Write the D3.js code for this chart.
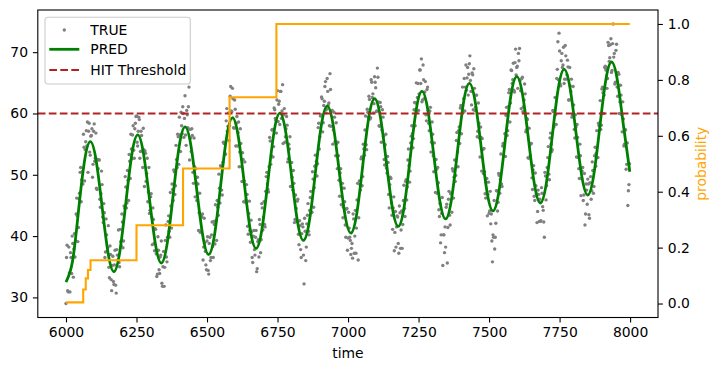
<!DOCTYPE html>
<html lang="en">
<head>
<meta charset="utf-8">
<title>TRUE vs PRED with hit probability</title>
<script src="https://cdn.jsdelivr.net/npm/d3@7"></script>
<style>
  body { margin: 0; background: #fff; }
  svg { display: block; font-family: "DejaVu Sans", sans-serif; }
</style>
</head>
<body>
<div id="chart"></div>
<script>
// ---- data ----
// TRUE is sampled on two interleaved grids: 6000,6004,... and 6002,6006,...
const trueStep = 4;
const trueStartA = 6000;
const trueValuesA = [
  29.0,38.5,30.9,34.0,37.3,33.9,38.8,37.9,36.6,43.6,43.3,41.4,47.0,51.2,49.2,48.5,54.5,54.1,57.2,58.6,57.1,53.7,56.3,57.5,51.7,58.3,52.7,47.8,52.5,52.4,46.0,46.9,48.4,42.2,43.8,37.4,40.2,38.1,34.9,38.4,32.9,35.2,
  32.6,35.3,32.0,37.8,36.1,35.7,41.1,38.4,42.3,39.2,44.6,48.0,45.4,49.1,53.3,49.4,54.2,56.5,54.0,57.5,59.5,55.3,57.1,59.0,53.8,56.4,51.2,54.1,53.9,48.9,52.7,47.2,43.7,46.4,43.1,44.6,38.8,41.2,37.1,33.8,37.7,33.9,
  36.9,32.3,35.0,31.8,39.3,36.6,39.8,43.3,39.8,44.9,48.5,45.8,50.5,48.2,52.5,56.6,51.7,56.5,60.2,56.7,60.0,59.2,56.5,60.5,57.7,64.3,57.4,53.8,56.4,48.6,51.3,51.0,45.8,48.5,43.8,40.6,43.3,43.6,38.2,38.9,35.3,39.2,
  34.4,38.8,36.0,40.2,38.3,42.4,38.7,42.6,45.8,43.4,47.8,51.5,47.5,52.0,55.1,53.3,58.8,57.1,60.1,58.0,64.4,60.3,62.4,57.6,60.7,58.4,54.7,58.6,53.7,55.1,48.9,52.5,49.0,45.5,48.4,41.6,43.7,40.9,42.6,36.5,40.0,37.8,
  39.8,34.2,39.1,36.6,41.9,39.4,44.6,43.1,41.9,47.3,50.4,47.6,51.3,55.5,53.1,57.4,54.6,60.6,58.9,62.2,58.7,62.0,63.6,59.2,64.7,59.8,55.3,57.5,58.1,52.6,54.2,48.1,52.0,47.5,48.6,42.7,44.5,45.7,40.3,42.5,37.8,40.4,
  41.5,32.2,40.8,38.2,43.4,40.8,44.2,47.3,43.9,49.3,47.9,53.2,52.2,51.8,58.4,56.2,59.8,62.4,58.5,62.0,65.2,60.7,63.6,61.7,66.5,57.9,60.5,57.3,59.4,53.1,55.1,55.3,49.1,50.3,45.1,48.6,44.7,45.6,39.8,44.5,39.7,41.3,
  39.3,38.0,36.4,42.8,40.0,37.2,45.9,36.1,49.0,47.5,52.9,49.7,54.2,57.3,54.9,60.7,59.4,62.3,59.3,65.1,63.2,61.6,65.1,60.3,67.4,61.9,57.9,61.1,57.3,59.4,52.5,54.9,51.1,53.0,46.8,48.4,49.4,43.4,44.6,37.6,44.0,41.5,
  43.1,37.2,43.8,41.0,38.0,45.8,44.5,48.9,45.9,52.4,51.5,50.6,56.3,56.7,55.9,61.8,61.7,60.3,64.9,63.2,67.1,68.9,62.2,65.5,63.5,59.8,63.9,60.5,57.2,61.0,55.3,56.6,50.5,52.5,52.5,47.0,48.7,43.2,38.9,43.7,35.2,40.2,
  41.5,44.7,35.6,46.0,43.4,46.9,43.9,50.6,49.6,48.9,55.6,53.7,57.2,55.1,61.3,61.1,60.1,65.7,64.3,63.8,67.5,66.4,69.4,63.6,66.6,60.6,64.1,61.0,63.0,57.1,58.4,52.9,56.1,55.9,50.2,50.5,46.2,49.4,46.8,43.7,47.3,43.6,
  35.8,39.8,37.9,42.1,47.4,45.5,49.9,49.3,48.5,54.7,53.0,56.7,59.7,56.4,61.1,63.9,61.7,67.0,65.5,63.8,68.3,66.3,67.7,69.8,70.6,63.7,65.7,60.3,62.2,63.2,57.3,59.0,52.7,54.8,55.1,49.5,50.8,46.5,50.3,46.9,44.0,46.8,
  46.0,42.5,47.0,44.2,39.8,49.8,48.2,52.8,50.1,56.0,55.0,54.1,60.3,60.5,59.8,65.7,71.7,73.1,64.8,68.6,67.5,70.8,65.6,69.4,66.3,67.6,62.2,64.5,65.6,59.7,61.4,56.0,57.8,58.2,52.8,49.4,53.1,49.4,51.2,46.7,41.8,48.5,
  45.2,48.5,42.9,49.7,47.4,50.7,48.1,54.5,53.5,52.8,58.4,57.9,57.4,64.0,63.4,63.0,67.7,67.5,65.7,71.1,69.1,72.2,67.0,74.6,69.8,65.1,71.3,62.8,66.4,61.9,63.0,57.0,59.1,55.0,57.3,51.7,45.0,48.4
];
const trueStartB = 6002;
const trueValuesB = [
  36.5,31.1,38.2,30.9,36.5,40.0,33.3,40.4,39.2,46.2,39.1,46.1,50.4,45.6,50.5,56.6,49.0,55.4,54.7,50.4,58.4,53.2,56.4,49.6,57.1,52.2,56.8,47.6,51.0,52.4,44.7,50.6,43.1,45.3,36.5,42.8,37.5,41.7,33.2,37.0,31.1,36.7,
  32.1,37.7,30.7,36.9,41.0,35.0,39.1,43.6,38.1,44.9,49.7,44.6,50.7,45.8,52.2,56.6,52.6,58.0,52.7,58.4,59.6,54.7,59.4,52.7,57.1,53.9,57.6,48.1,53.5,50.2,45.6,51.2,44.2,46.9,38.6,42.7,37.6,41.1,33.4,39.9,34.5,36.6,
  39.2,31.8,37.5,34.9,41.8,35.8,42.4,40.8,47.1,41.3,47.6,50.8,46.8,54.8,51.2,56.2,59.4,53.8,58.0,61.1,56.1,62.9,54.8,59.8,61.1,52.4,56.0,57.5,50.4,56.0,46.4,48.7,49.6,40.9,47.0,40.8,43.1,36.1,42.9,37.5,34.5,39.9,
  33.8,39.8,36.5,42.3,36.5,41.9,45.1,39.3,44.7,50.1,45.4,51.3,46.7,55.3,55.2,53.4,60.8,57.9,55.6,62.8,60.4,64.1,57.7,62.2,54.7,59.5,56.9,51.3,57.5,51.3,53.6,45.6,52.1,45.9,46.8,40.3,45.7,39.0,40.7,35.7,40.9,36.9,
  40.9,34.7,39.4,42.7,37.3,45.3,41.0,45.6,41.5,49.7,48.5,47.2,56.1,51.7,57.3,52.9,60.9,59.2,56.8,63.7,61.5,58.2,63.6,60.4,55.1,60.8,56.2,59.5,52.1,55.0,56.2,48.1,49.6,50.7,42.2,46.7,42.4,46.0,38.6,41.7,36.5,42.0,
  36.9,42.9,36.0,42.0,45.3,40.2,46.3,43.8,50.5,44.7,51.4,51.5,49.8,57.7,54.2,59.6,62.7,57.0,61.3,64.4,60.1,65.7,61.4,58.0,63.9,60.4,55.0,60.2,55.4,58.5,51.0,53.1,46.5,51.0,47.9,43.0,47.8,41.8,44.4,37.7,43.9,39.8,
  37.0,38.8,43.6,37.2,44.2,41.3,48.6,43.0,48.4,52.6,48.2,55.0,53.2,59.6,54.1,60.2,62.8,59.1,65.5,62.6,60.1,66.0,64.2,60.4,65.9,58.0,61.8,55.3,60.6,56.3,51.6,56.6,50.3,52.0,44.6,49.6,45.4,41.1,46.4,40.6,38.2,43.3,
  38.8,44.9,38.0,44.1,41.9,48.3,43.2,49.2,48.0,54.2,48.8,55.2,58.0,54.4,60.6,58.0,65.0,62.6,60.5,67.1,64.9,61.9,67.9,62.4,65.2,58.8,64.3,58.4,60.4,53.7,58.6,53.1,55.2,47.1,50.9,51.2,44.3,45.3,40.2,46.3,40.2,37.3,
  38.2,45.2,41.4,47.3,41.8,47.0,51.0,46.2,52.4,49.9,56.9,51.3,57.8,60.9,56.7,64.3,62.4,60.4,67.9,65.8,63.0,68.1,65.4,61.4,66.3,67.3,60.5,63.0,56.2,61.7,56.0,57.8,50.6,54.1,54.3,46.9,48.8,43.3,48.8,44.1,42.0,39.2,
  40.2,45.8,39.8,47.4,44.1,50.2,47.0,53.4,48.1,55.1,54.9,53.0,61.0,57.2,63.4,58.6,67.1,64.9,68.2,63.5,70.5,67.5,64.1,68.6,65.4,60.8,65.9,61.1,64.8,57.0,59.2,52.8,57.6,53.1,55.1,47.6,51.5,45.8,48.2,42.2,47.5,42.4,
  42.4,47.9,44.8,42.3,50.4,45.9,51.2,54.6,49.2,56.8,53.8,60.5,57.8,62.6,58.2,67.2,65.5,70.2,64.5,69.8,67.9,64.9,71.1,65.6,68.7,62.2,67.5,63.6,59.4,64.4,57.4,59.8,52.9,56.1,51.0,55.0,46.6,50.6,45.8,50.2,43.6,47.5,
  49.3,43.5,48.7,46.0,52.1,47.0,53.1,51.4,57.2,52.8,58.1,62.1,58.1,64.3,60.0,67.5,67.1,64.1,71.6,68.5,71.2,66.7,71.4,69.2,64.8,70.3,64.3,66.7,60.0,64.6,59.8,61.9,54.7,57.4,50.9,55.2,47.4,51.8
];

// PRED: troughs, peaks and the points between them
const predTime = [
  6000,6023,6044,6065,6086,6107,6128,6149,
  6170,6191,6212,6233,6254,6275,6296,6317,
  6338,6359,6380,6401,6422,6443,6464,6485,
  6506,6527,6548,6569,6590,6611,6632,6653,
  6674,6695,6716,6737,6758,6779,6800,6821,
  6842,6863,6884,6905,6926,6947,6968,6989,
  7010,7031,7052,7073,7094,7115,7136,7157,
  7178,7199,7220,7241,7262,7283,7304,7325,
  7346,7367,7388,7409,7430,7451,7472,7493,
  7514,7535,7556,7577,7598,7619,7640,7661,
  7682,7703,7724,7745,7766,7787,7808,7829,
  7850,7871,7892,7913,7934,7955,7976,7999
];
const predValues = [
  32.5,35.85,43.95,52.05,55.4,52.3,44.8,37.3,
  34.2,37.5,45.35,53.2,56.5,53.4,46.05,38.7,
  35.6,38.85,46.7,54.55,57.8,54.75,47.4,40.05,
  37.0,40.3,48.15,56.0,59.3,56.2,48.65,41.1,
  38.0,41.2,49.0,56.8,60.05,57.0,49.7,42.3,
  39.3,42.5,50.25,58.0,61.2,58.2,50.85,43.5,
  40.5,43.7,51.45,59.2,62.4,59.35,52.0,44.65,
  41.6,44.8,52.6,60.4,63.6,60.55,53.2,45.85,
  42.8,46.05,53.85,61.65,64.9,61.85,54.5,47.15,
  44.1,47.3,55.05,62.8,66.0,63.0,55.7,48.4,
  45.4,48.6,56.3,64.0,67.2,64.2,56.95,49.7,
  46.7,49.9,57.55,65.2,68.4,65.4,58.2,50.5
];

// hit probability (step line, right axis)
const probTime   = [6000, 6061, 6070, 6078, 6087, 6250, 6415, 6580, 6746, 7999];
const probValues = [0.004, 0.05, 0.09, 0.12, 0.155, 0.28, 0.483, 0.738, 1.0, 1.0];

const hitThreshold = 60;
const xTicks = [6000, 6250, 6500, 6750, 7000, 7250, 7500, 7750, 8000];
const leftTicks = [30, 40, 50, 60, 70];
const rightTicks = [0, 0.2, 0.4, 0.6, 0.8, 1.0];
const legendLabels = ["TRUE", "PRED", "HIT Threshold"];

// ---- layout ----
const width = 718, height = 371;
const plot = {left: 37.8, right: 658, top: 10, bottom: 317.5};
const fontSize = 13.9;
const tickLen = 4.9;

const svg = d3.select("#chart").append("svg")
  .attr("width", width)
  .attr("height", height);

// matplotlib style 5% margins
function padded(ext) {
  const m = (ext[1] - ext[0]) * 0.05;
  return [ext[0] - m, ext[1] + m];
}

const truePoints = trueValuesA.map((v, i) => ({t: trueStartA + i * trueStep, v: v}))
  .concat(trueValuesB.map((v, i) => ({t: trueStartB + i * trueStep, v: v})));

const x = d3.scaleLinear()
  .domain(padded([6000, 7999]))
  .range([plot.left, plot.right]);

const yL = d3.scaleLinear()
  .domain(padded(d3.extent(trueValuesA.concat(trueValuesB, predValues))))
  .range([plot.bottom, plot.top]);

const yR = d3.scaleLinear()
  .domain(padded([0, 1]))
  .range([plot.bottom, plot.top]);

function styleAxis(g) {
  g.attr("font-family", "DejaVu Sans").attr("font-size", fontSize);
  g.select(".domain").remove();
  g.selectAll(".tick line").attr("stroke", "#000").attr("stroke-width", 1.1);
  g.selectAll(".tick text").attr("fill", "#000");
}

// axes
svg.append("g")
  .attr("transform", "translate(0," + plot.bottom + ")")
  .call(d3.axisBottom(x).tickValues(xTicks).tickSize(tickLen).tickPadding(4.9).tickFormat(d3.format("d")))
  .call(styleAxis);

svg.append("g")
  .attr("transform", "translate(" + plot.left + ",0)")
  .call(d3.axisLeft(yL).tickValues(leftTicks).tickSize(tickLen).tickPadding(4.9).tickFormat(d3.format("d")))
  .call(styleAxis);

svg.append("g")
  .attr("transform", "translate(" + plot.right + ",0)")
  .call(d3.axisRight(yR).tickValues(rightTicks).tickSize(tickLen).tickPadding(4.9).tickFormat(d3.format(".1f")))
  .call(styleAxis);

// TRUE scatter
svg.append("g")
  .selectAll("circle")
  .data(truePoints)
  .join("circle")
  .attr("cx", d => x(d.t))
  .attr("cy", d => yL(d.v))
  .attr("r", 1.7)
  .attr("fill", "#808080");

// PRED line
svg.append("path")
  .datum(predValues)
  .attr("fill", "none")
  .attr("stroke", "green")
  .attr("stroke-width", 2.8)
  .attr("d", d3.line()
    .x((d, i) => x(predTime[i]))
    .y(d => yL(d))
    .curve(d3.curveNatural));

// HIT threshold
svg.append("line")
  .attr("x1", plot.left).attr("x2", plot.right)
  .attr("y1", yL(hitThreshold)).attr("y2", yL(hitThreshold))
  .attr("stroke", "#b22222")
  .attr("stroke-width", 2.1)
  .attr("stroke-dasharray", "7.7,3.3");

// probability (twin axis)
svg.append("path")
  .datum(probValues)
  .attr("fill", "none")
  .attr("stroke", "orange")
  .attr("stroke-width", 2.1)
  .attr("d", d3.line()
    .x((d, i) => x(probTime[i]))
    .y(d => yR(d))
    .curve(d3.curveStepAfter));

// frame
svg.append("rect")
  .attr("x", plot.left).attr("y", plot.top)
  .attr("width", plot.right - plot.left)
  .attr("height", plot.bottom - plot.top)
  .attr("fill", "none")
  .attr("stroke", "#000")
  .attr("stroke-width", 1.1);

// axis labels
svg.append("text")
  .attr("x", (plot.left + plot.right) / 2)
  .attr("y", 358)
  .attr("text-anchor", "middle")
  .attr("font-size", fontSize)
  .text("time");

svg.append("text")
  .attr("transform", "translate(706," + ((plot.top + plot.bottom) / 2) + ") rotate(-90)")
  .attr("text-anchor", "middle")
  .attr("font-size", fontSize)
  .attr("fill", "orange")
  .text("probability");

// legend
const legend = svg.append("g").attr("transform", "translate(45,17.3)");
legend.append("rect")
  .attr("width", 145.3).attr("height", 66.7)
  .attr("rx", 2.8).attr("ry", 2.8)
  .attr("fill", "#fff").attr("fill-opacity", 0.8)
  .attr("stroke", "#cccccc").attr("stroke-width", 1.1);

const rows = [12.7, 32.0, 52.7];
legend.append("circle")
  .attr("cx", 19.3).attr("cy", rows[0]).attr("r", 1.7)
  .attr("fill", "#808080");
legend.append("line")
  .attr("x1", 4.3).attr("x2", 34.3).attr("y1", rows[1]).attr("y2", rows[1])
  .attr("stroke", "green").attr("stroke-width", 2.8);
legend.append("line")
  .attr("x1", 4.3).attr("x2", 34.3).attr("y1", rows[2]).attr("y2", rows[2])
  .attr("stroke", "#b22222").attr("stroke-width", 2.1)
  .attr("stroke-dasharray", "7.7,3.3");

legend.selectAll("text.lbl")
  .data(legendLabels)
  .join("text")
  .attr("class", "lbl")
  .attr("x", 45.3)
  .attr("y", (d, i) => rows[i] + 4.8)
  .attr("font-size", fontSize)
  .text(d => d);
</script>
</body>
</html>
